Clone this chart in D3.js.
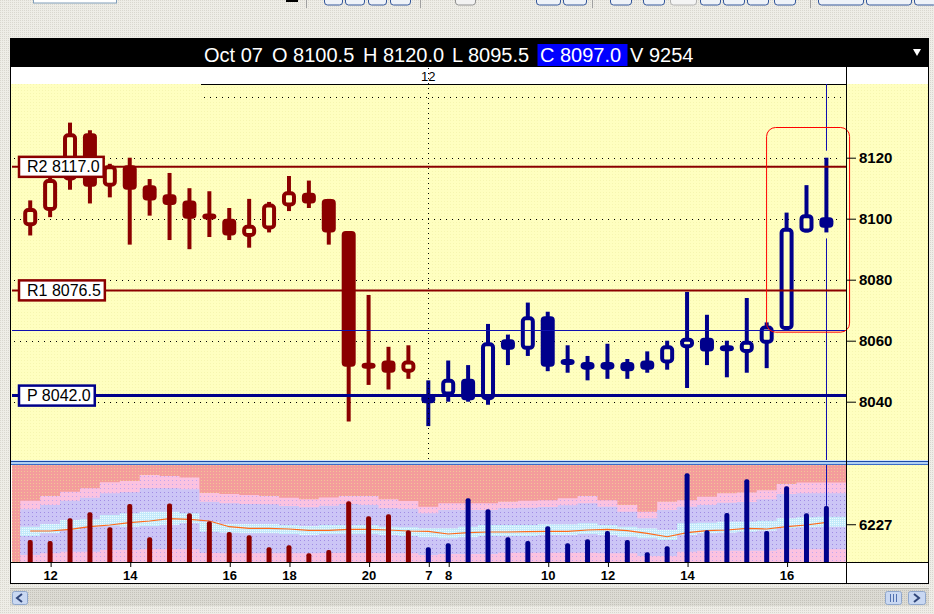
<!DOCTYPE html>
<html><head><meta charset="utf-8">
<script src="https://cdn.jsdelivr.net/npm/d3@7"></script>
<style>
html,body{margin:0;padding:0;background:#e9e8e1;overflow:hidden;}
svg{display:block;font-family:"Liberation Sans",Arial,sans-serif;}
</style></head><body>
<svg id="c" width="934" height="614"></svg>
<script>
// ---------------- DATA ----------------
const opens  = [8097.5,8102.5,8112.5,8128,8110.5,8117.5,8111,8108,8106,8101.5,8100,8094,8096.5,8104,8108.5,8106.5,8096,8052.5,8053.5,8049.5,8042.5,8042,8047.5,8040.5,8060.5,8057,8068,8054,8053,8053,8053,8053.5,8052.5,8057.5,8061,8058,8056,8059,8063.5,8095.5,8100.5];
const highs  = [8106,8114,8131.5,8129,8118,8120,8113,8115,8110,8109,8103.5,8106.5,8105.5,8114,8112.5,8106.5,8096,8075,8058,8058.5,8047,8053.5,8052,8065.5,8062,8072.5,8069.5,8058.5,8055,8059,8054,8056.5,8060,8076,8068.5,8060,8074,8066,8102,8111,8120];
const lows   = [8094.5,8100.5,8109.5,8105,8107,8091.5,8101,8093,8090,8094,8093,8090.5,8095.5,8102.5,8103.5,8091.5,8033.5,8045.5,8044,8047.5,8032,8040,8040,8039,8052,8055,8050,8049.5,8047,8047.5,8047.5,8049.5,8050.5,8044.5,8052,8048,8049.5,8051,8063.5,8095.5,8095.5];
const closes = [8103.5,8113,8128,8110.5,8117.5,8109.5,8106,8104.5,8100,8100,8094.5,8098,8105,8109,8105,8095.5,8051.5,8051,8049.5,8053.5,8039.5,8047.5,8040.5,8059.5,8057,8068,8051.5,8052,8050.5,8050.5,8050,8050.5,8058.5,8061,8056.5,8057,8060,8065,8097,8101.5,8097];
const volumes = [3630,3460,7210,8200,5720,9560,4070,9670,8030,6710,4950,4400,2420,2750,1440,1980,10010,7540,7870,5230,2420,3080,10500,8690,4070,3460,5890,3080,3740,5110,3630,1600,2590,14630,5230,8080,13640,5110,12480,8030,9254];
// volume envelope bands (volume units)
const volUpperOuter = [10100,10900,11600,12150,13150,13350,14350,14200,13950,11400,11200,11050,10900,10600,10350,10650,10900,10900,10350,10050,9100,9700,9700,9700,9950,10100,10200,10500,10900,10200,9400,8300,9950,10200,10750,11350,11450,11850,12850,13100,13100];
const volUpperInner = [8690,9400,10100,10600,11330,11490,12150,12150,11990,9950,9680,9560,9510,9230,9020,9280,9560,9400,8850,8740,8030,8575,8575,8575,8850,8950,9070,9350,9680,9120,8295,7205,8575,9120,9400,9780,9895,10340,11215,11330,11330];
const volBandTop    = [5820,6270,6930,7040,7750,8030,8300,8300,8030,6650,6270,6270,6270,6100,5940,6100,6100,6100,5820,5720,5560,5560,5820,6100,6100,6100,6220,6220,6380,6100,5820,5560,5280,6380,6480,6650,6650,6810,7210,7370,7470];
const volBandBottom = [4290,4730,5280,5820,5990,5820,5940,6100,6380,5000,4830,4730,4730,4620,4450,4620,4620,4620,4450,4290,4070,3910,4070,4290,4290,4290,4450,4450,4620,4450,4170,3910,3630,4450,4730,4830,5000,5160,5560,5720,5820];
const volAverage    = [5110,5110,5390,5820,6100,6480,6760,7140,7040,6760,5820,5560,5560,5440,5230,5230,5390,5390,5280,5110,5060,4620,4830,4950,4950,5000,5060,5060,5280,5390,5160,4730,4170,4830,5160,5280,5560,5440,5820,6100,6550];
const volLowerInner = [1150,1440,1700,1700,1980,1980,2090,2090,2090,1480,1440,1440,1440,1440,1440,1480,1480,1480,1440,1440,1150,1320,1320,1320,1530,1530,1530,1530,1530,1440,1440,990,990,1700,1860,1860,1860,1860,2090,2090,2090];

const bottomTickIndex  = [1,5,10,13,17,20,21,26,29,33,38];
const bottomTickLabels = ["12","14","16","18","20","7","8","10","12","14","16"];
const priceTicks = [8040,8060,8080,8100,8120];
const gridLevels = [8040,8060,8080,8100,8120,8140];
const volTicks = [6227];
const pivotNames  = ["R2","R1","P"];
const pivotValues = [8117.0,8076.5,8042.0];
const headerFields = ["Oct 07","O 8100.5","H 8120.0","L 8095.5","C 8097.0","V 9254"];
const dayBreakIndex = 20, dayLabel = "12";
const crossIndex = 40, crossPrice = 8063.5;
const boxRange = {i0:36.97, i1:41.14, p0:8062.8, p1:8129.9};

// ---------------- LAYOUT ----------------
const svg = d3.select("#c");
const L = 12, R = 846, plotTop = 84, plotBot = 460, volTop = 465, volBot = 562;
const RED = "#8b0000", NAVY = "#00008b", YEL = "#ffffc0";
const x  = d3.scaleLinear().domain([-0.915, 40.985]).range([L, R]);
const yP = d3.scaleLinear().domain([8020, 8150]).range([462.7, 66.2]);
const yV = d3.scaleLinear().domain([0, 16000]).range([volBot, volTop]);

const defs = svg.append("defs");
defs.append("clipPath").attr("id","cpMain").append("rect").attr("x",L).attr("y",plotTop).attr("width",R-L).attr("height",plotBot-plotTop);
defs.append("clipPath").attr("id","cpVol").append("rect").attr("x",L).attr("y",volTop).attr("width",R-L).attr("height",volBot-volTop);
function dotPattern(id,bg,dot,size){
  const p = defs.append("pattern").attr("id",id).attr("width",size).attr("height",size).attr("patternUnits","userSpaceOnUse");
  p.append("rect").attr("width",size).attr("height",size).attr("fill",bg);
  p.append("rect").attr("width",1).attr("height",1).attr("fill",dot);
}
dotPattern("pGrey","#eeede7","#d9d7cf",2);
dotPattern("pSalmon","#f49c9c","#f2c795",3);
dotPattern("pPink","#fbc2e0","#c2a6ee",4);
dotPattern("pLav","#ccc5f6","#a08ce4",4);
dotPattern("pCyan","#c3eafa","#eefaff",2);
dotPattern("pYel","#ffffc0","#f6f6b0",3);
dotPattern("pScroll","#dcdbd4","#c4c2ba",2);

// page background
svg.append("rect").attr("width",934).attr("height",614).attr("fill","url(#pGrey)");

// toolbar remnants
const tb = svg.append("g");
tb.append("rect").attr("x",33.5).attr("y",-3).attr("width",83).attr("height",6).attr("fill","#fff").attr("stroke","#7f9db9");
tb.append("rect").attr("x",286).attr("y",0).attr("width",12).attr("height",2).attr("fill","#000");
[[306],[420],[592],[810]].forEach(d=>tb.append("line").attr("x1",d[0]+.5).attr("x2",d[0]+.5).attr("y1",0).attr("y2",8).attr("stroke","#a0a0a0"));
[[324,18],[345,19],[368,18],[390,20],[536,24],[563,23],[610,21],[643,21],[700,20],[723,21],[747,21],[774,21],[818,45],[866,45],[914,22]].forEach(d=>{
  tb.append("rect").attr("x",d[0]+.5).attr("y",-5).attr("width",d[1]).attr("height",10).attr("rx",3)
    .attr("fill","#eef2f8").attr("stroke","#33569a").attr("stroke-width",1);
});
tb.append("rect").attr("x",455.5).attr("y",-5).attr("width",20).attr("height",10).attr("rx",3).attr("fill","#f2f2f2").attr("stroke","#909090");
tb.append("rect").attr("x",670.5).attr("y",-5).attr("width",26).attr("height",10).attr("rx",3).attr("fill","#f4f4f4").attr("stroke","#b0b0b0");

// chart frame
svg.append("rect").attr("x",10.5).attr("y",38.5).attr("width",918).attr("height",545).attr("fill","#fff").attr("stroke","#000");
svg.append("rect").attr("x",11).attr("y",39).attr("width",917).attr("height",28).attr("fill","#000");
svg.append("rect").attr("x",11).attr("y",84).attr("width",917).attr("height",plotBot-84).attr("fill","url(#pYel)");
svg.append("rect").attr("x",R).attr("y",volTop).attr("width",928-R).attr("height",volBot-volTop).attr("fill","url(#pYel)");

// header text
const hx = [204,272,363,452,540,630];
svg.append("rect").attr("x",537.5).attr("y",44).attr("width",90).attr("height",22).attr("fill","#0000ff");
svg.append("g").selectAll("text").data(headerFields).join("text")
  .attr("x",(d,i)=>hx[i]).attr("y",62).attr("fill","#fff").attr("font-size",20).text(d=>d);
svg.append("path").attr("d","M913,49 L921,49 L917,56 Z").attr("fill","#fff");

// top strip line + day label
svg.append("line").attr("x1",201).attr("x2",R).attr("y1",84.5).attr("y2",84.5).attr("stroke","#000");
svg.append("text").attr("x",x(dayBreakIndex)).attr("y",81).attr("text-anchor","middle").attr("font-size",13).text(dayLabel);

// ---------------- MAIN PANEL ----------------
const main = svg.append("g").attr("clip-path","url(#cpMain)");
// dotted grid
main.append("g").selectAll("line").data(gridLevels).join("line")
  .attr("x1",d=>d===8140?204:L+2).attr("x2",842)
  .attr("y1",d=>Math.round(yP(d))+.5).attr("y2",d=>Math.round(yP(d))+.5)
  .attr("stroke","#000").attr("stroke-width",1).attr("stroke-dasharray","1,5");
// day separator (dotted vertical)
svg.append("line").attr("x1",Math.round(x(dayBreakIndex))+.5).attr("x2",Math.round(x(dayBreakIndex))+.5)
  .attr("y1",68).attr("y2",plotBot).attr("stroke","#000").attr("stroke-dasharray","1,4");

// crosshair vertical (segments around last candle)
const cxp = Math.round(x(crossIndex))+.5;
main.append("line").attr("x1",cxp).attr("x2",cxp).attr("y1",plotTop).attr("y2",yP(highs[crossIndex])-7).attr("stroke","#1010b0");
main.append("line").attr("x1",cxp).attr("x2",cxp).attr("y1",yP(lows[crossIndex])+6).attr("y2",plotBot).attr("stroke","#1010b0");

// candles
const idx = d3.range(opens.length);
const bw = 14;
const cg = main.append("g");
const col = i => i < dayBreakIndex ? RED : NAVY;
cg.selectAll("line.wick").data(idx).join("line").attr("class","wick")
  .attr("x1",i=>x(i)).attr("x2",i=>x(i))
  .attr("y1",i=>yP(highs[i])).attr("y2",i=>yP(lows[i]))
  .attr("stroke",col).attr("stroke-width",4);
function bodyGeom(i){
  let t = yP(Math.max(opens[i],closes[i])), b = yP(Math.min(opens[i],closes[i]));
  let h = b - t;
  if (h < 6){ const m=(t+b)/2; t = m-3; h = 6; }
  return {t, h};
}
idx.forEach(i=>{
  const g = bodyGeom(i), up = closes[i] > opens[i];
  if (up){
    cg.append("rect").attr("x",x(i)-bw/2+2).attr("y",g.t+2).attr("width",bw-4).attr("height",Math.max(g.h-4,2))
      .attr("rx",3).attr("fill",YEL).attr("stroke",col(i)).attr("stroke-width",4);
  } else {
    cg.append("rect").attr("x",x(i)-bw/2).attr("y",g.t).attr("width",bw).attr("height",g.h)
      .attr("rx",4).attr("fill",col(i));
  }
});

// pivot lines
const pivotColor = i => i < 2 ? RED : NAVY;
main.append("g").selectAll("line").data(pivotValues).join("line")
  .attr("x1",L).attr("x2",R).attr("y1",d=>yP(d)).attr("y2",d=>yP(d))
  .attr("stroke",(d,i)=>pivotColor(i)).attr("stroke-width",(d,i)=>i<2?2:3);
// crosshair horizontal
main.append("line").attr("x1",L).attr("x2",R).attr("y1",Math.round(yP(crossPrice))+.5).attr("y2",Math.round(yP(crossPrice))+.5)
  .attr("stroke","#1010b0").attr("stroke-width",1);

// red rounded selection box
svg.append("rect").attr("x",x(boxRange.i0)+.5).attr("y",yP(boxRange.p1)).attr("width",x(boxRange.i1)-x(boxRange.i0))
  .attr("height",yP(boxRange.p0)-yP(boxRange.p1)).attr("rx",9).attr("fill","none").attr("stroke","#ff0000").attr("stroke-width",1);

// pivot label boxes
pivotValues.forEach((v,i)=>{
  const g = svg.append("g");
  const y = yP(v);
  const t = g.append("text").attr("x",27).attr("y",y+5.5).attr("font-size",16).attr("fill","#000")
     .text(pivotNames[i]+" "+v.toFixed(1));
  const w = t.node().getComputedTextLength();
  g.insert("rect","text").attr("x",19).attr("y",y-10).attr("width",w+12).attr("height",20)
     .attr("fill","#fff").attr("stroke",pivotColor(i)).attr("stroke-width",2.5);
});

// right price axis
const pa = svg.append("g").attr("transform",`translate(${R},0)`);
pa.call(d3.axisRight(yP).tickValues(d3.range(8024,8137,4).filter(v=>priceTicks.indexOf(v)<0)).tickSize(6).tickFormat(""));
pa.call(d3.axisRight(yP).tickValues(priceTicks).tickSize(10).tickPadding(3).tickFormat(d3.format("d")));
pa.selectAll(".domain").remove();
pa.selectAll("text").attr("font-size",15).attr("font-weight","bold").attr("font-family","'Liberation Sans',Arial,sans-serif").attr("fill","#000");
pa.selectAll("line").attr("stroke","#000");

// ---------------- VOLUME PANEL ----------------
// separator
svg.append("rect").attr("x",11).attr("y",460.5).attr("width",917).attr("height",4.5).attr("fill","#b0d0f2");
svg.append("line").attr("x1",11).attr("x2",928).attr("y1",461.5).attr("y2",461.5).attr("stroke","#1c4aa8");
svg.append("line").attr("x1",11).attr("x2",928).attr("y1",464.5).attr("y2",464.5).attr("stroke","#3a6cc8");

const vol = svg.append("g").attr("clip-path","url(#cpVol)");
vol.append("rect").attr("x",L).attr("y",volTop).attr("width",R-L).attr("height",volBot-volTop).attr("fill","url(#pSalmon)");
function stepPts(a,b){
  const pts = a.map((v,i)=>({x:Math.max(L,x(i-0.5)), a:v, b:b?b[i]:null}));
  pts.push({x:R, a:a[a.length-1], b:b?b[b.length-1]:null});
  return pts;
}
const band = d3.area().x(d=>d.x).y1(d=>yV(d.a)).y0(d=>d.b==null?volBot+2:yV(d.b)).curve(d3.curveStepAfter);
vol.append("path").attr("d",band(stepPts(volUpperOuter))).attr("fill","url(#pPink)");
vol.append("path").attr("d",band(stepPts(volUpperInner,volLowerInner))).attr("fill","url(#pLav)");
vol.append("path").attr("d",band(stepPts(volBandTop,volBandBottom))).attr("fill","url(#pCyan)");
vol.append("path").attr("d",d3.line().x((d,i)=>x(i)).y(d=>yV(d))(volAverage))
  .attr("fill","none").attr("stroke","#ff6a1a").attr("stroke-width",1.2);
vol.selectAll("rect.vb").data(volumes).join("rect").attr("class","vb")
  .attr("x",(d,i)=>x(i)-2.5).attr("width",5)
  .attr("y",d=>yV(d)).attr("height",d=>volBot-yV(d)+3).attr("rx",2)
  .attr("fill",(d,i)=>col(i));
vol.append("line").attr("x1",cxp).attr("x2",cxp).attr("y1",volTop).attr("y2",yV(volumes[crossIndex])).attr("stroke","#1010b0");

// volume axis
const va = svg.append("g").attr("transform",`translate(${R},0)`);
va.call(d3.axisRight(yV).tickValues(volTicks).tickSize(10).tickPadding(3).tickFormat(d3.format("d")));
va.selectAll(".domain").remove();
va.selectAll("text").attr("font-size",15).attr("font-weight","bold").attr("font-family","'Liberation Sans',Arial,sans-serif").attr("fill","#000");
va.selectAll("line").attr("stroke","#000");

// bottom axis
svg.append("line").attr("x1",11).attr("x2",928).attr("y1",volBot+.5).attr("y2",volBot+.5).attr("stroke","#000");
const ba = svg.append("g").attr("transform",`translate(0,${volBot})`);
ba.call(d3.axisBottom(x).tickValues(bottomTickIndex).tickSize(5).tickPadding(4).tickFormat((d,i)=>bottomTickLabels[i]));
ba.selectAll(".domain").remove();
ba.selectAll("line").attr("stroke","#000").attr("transform","translate(0.5,0)");
ba.selectAll("text").attr("font-size",13).attr("font-weight","bold").attr("font-family","'Liberation Sans',Arial,sans-serif").attr("fill","#000");

// vertical dividers
svg.append("line").attr("x1",R+.5).attr("x2",R+.5).attr("y1",67).attr("y2",583).attr("stroke","#000");

// ---------------- SCROLLBAR ----------------
svg.append("rect").attr("x",10).attr("y",588).attr("width",919).attr("height",18).attr("fill","url(#pScroll)");
svg.append("line").attr("x1",10).attr("x2",929).attr("y1",588.5).attr("y2",588.5).attr("stroke","#b8b6ae");
function btn(x0,w){ return svg.append("rect").attr("x",x0+.5).attr("y",591.5).attr("width",w).attr("height",13).attr("rx",2)
  .attr("fill","#c9d8f2").attr("stroke","#8ea6cc"); }
btn(12,15); svg.append("path").attr("d","M22,594 L17,598 L22,602").attr("fill","none").attr("stroke","#30467a").attr("stroke-width",2);
btn(885,16); [890,893,896].forEach(v=>svg.append("line").attr("x1",v+.5).attr("x2",v+.5).attr("y1",594).attr("y2",602).attr("stroke","#5070b0"));
btn(908,17); svg.append("path").attr("d","M914,594 L919,598 L914,602").attr("fill","none").attr("stroke","#30467a").attr("stroke-width",2);
</script>
</body></html>
